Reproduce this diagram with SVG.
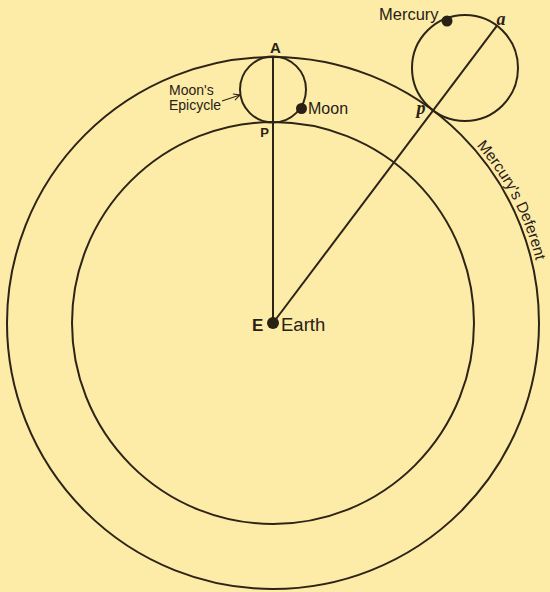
<svg xmlns="http://www.w3.org/2000/svg" width="550" height="592" viewBox="0 0 550 592">
  <defs>
    <style>
      .ln { fill: none; stroke: #2e2416; stroke-width: 2; }
      .thin { fill: none; stroke: #2e2416; stroke-width: 1.3; }
      .dot { fill: #2a2014; }
      .lbl { font-family: "Liberation Sans", Arial, sans-serif; fill: #2a2014; }
      .b { font-weight: bold; }
      .it { font-family: "Liberation Serif", "Times New Roman", serif; font-style: italic; font-weight: bold; fill: #2a2014; }
    </style>
    <marker id="open-arrow" viewBox="0 0 10 10" refX="9" refY="5" markerWidth="8" markerHeight="8" markerUnits="userSpaceOnUse" orient="auto">
      <path d="M1,1 L9,5 L1,9" fill="none" stroke="#2e2416" stroke-width="1.4"/>
    </marker>
    <path id="deferentArc" d="M 446.6 116.2 A 270 270 0 0 1 543 323"/>
  </defs>

  <rect width="550" height="592" fill="#FCECA7"/>

  <g id="mercury-deferent">
    <circle class="ln" cx="273" cy="323" r="266"/>
    <text class="lbl" font-size="15.5"><textPath href="#deferentArc" startOffset="42">Mercury's Deferent</textPath></text>
  </g>

  <g id="moon-deferent">
    <circle class="ln" cx="273" cy="323" r="201"/>
  </g>

  <g id="connectors">
    <line class="ln" x1="273" y1="323" x2="273" y2="57"/>
    <line class="ln" x1="273" y1="323" x2="497" y2="25.6"/>
    <line class="thin" x1="222" y1="101" x2="240" y2="95" marker-end="url(#open-arrow)"/>
  </g>

  <g id="moons-epicycle">
    <circle class="ln" cx="273" cy="89.5" r="33"/>
    <text class="lbl" font-size="14" x="169" y="95">Moon's</text>
    <text class="lbl" font-size="14" x="169" y="110">Epicycle</text>
  </g>

  <g id="mercury-epicycle">
    <circle class="ln" cx="465" cy="68" r="53"/>
  </g>

  <g id="earth">
    <circle class="dot" cx="273" cy="323" r="6"/>
    <text class="lbl b" font-size="17" x="252" y="331">E</text>
    <text class="lbl" font-size="18.5" x="281" y="331">Earth</text>
  </g>

  <g id="moon">
    <circle class="dot" cx="301.5" cy="108.5" r="5.5"/>
    <text class="lbl" font-size="16" x="308" y="114">Moon</text>
  </g>

  <g id="mercury">
    <circle class="dot" cx="447" cy="21" r="5.5"/>
    <text class="lbl" font-size="16.5" x="379" y="20">Mercury</text>
  </g>

  <g id="point-A">
    <text class="lbl b" font-size="15" x="275.5" y="52.5" text-anchor="middle">A</text>
  </g>

  <g id="point-P">
    <text class="lbl b" font-size="13" x="264.5" y="137.3" text-anchor="middle">P</text>
  </g>

  <g id="point-a">
    <text class="it" font-size="18" x="496.5" y="25">a</text>
  </g>

  <g id="point-p">
    <text class="it" font-size="18" x="416.5" y="114">p</text>
  </g>
</svg>
